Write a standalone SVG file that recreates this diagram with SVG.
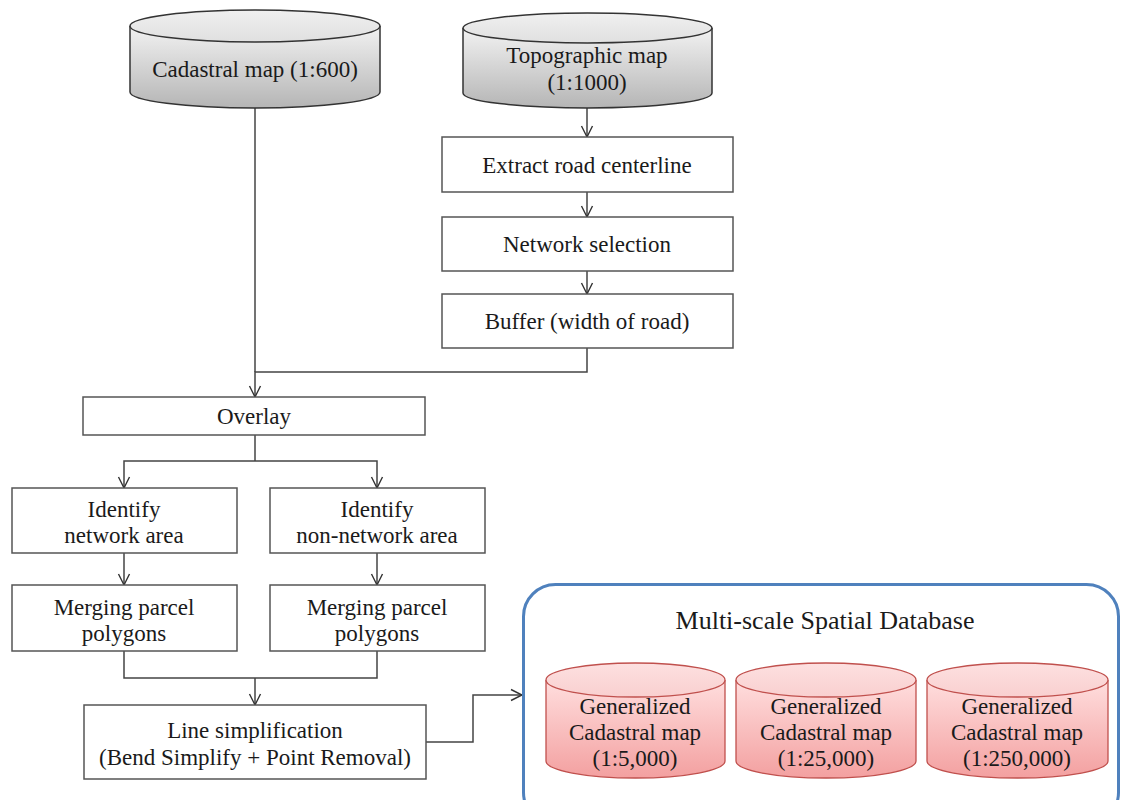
<svg xmlns="http://www.w3.org/2000/svg" width="1122" height="800" viewBox="0 0 1122 800">
<defs>
<linearGradient id="gGray" x1="0" y1="0" x2="0" y2="1">
<stop offset="0" stop-color="#f2f2f2"/>
<stop offset="1" stop-color="#b5b5b5"/>
</linearGradient>
<linearGradient id="gGrayTop" x1="0" y1="0" x2="0" y2="1">
<stop offset="0" stop-color="#f0f0f0"/>
<stop offset="1" stop-color="#e0e0e0"/>
</linearGradient>
<linearGradient id="gRed" x1="0" y1="0" x2="0" y2="1">
<stop offset="0" stop-color="#ffdede"/>
<stop offset="1" stop-color="#f3a0a0"/>
</linearGradient>
<linearGradient id="gRedTop" x1="0" y1="0" x2="0" y2="1">
<stop offset="0" stop-color="#fde0e0"/>
<stop offset="1" stop-color="#f9cfcf"/>
</linearGradient>
<marker id="arr" markerWidth="14" markerHeight="14" refX="12" refY="7" orient="auto" markerUnits="userSpaceOnUse">
<path d="M1,1.5 L12,7 L1,12.5" fill="none" stroke="#333" stroke-width="1.4"/>
</marker>
</defs>
<style>
text{font-size:23px;fill:#1a1a1a;text-anchor:middle;dominant-baseline:central}
.box{fill:#fff;stroke:#555;stroke-width:1.5}
.gcyl{fill:url(#gGray);stroke:#333;stroke-width:1.5}
.gtop{fill:url(#gGrayTop);stroke:#333;stroke-width:1.5}
.rcyl{fill:url(#gRed);stroke:#c0504d;stroke-width:1.3}
.rtop{fill:url(#gRedTop);stroke:#c0504d;stroke-width:1.3}
.con{fill:none;stroke:#444;stroke-width:1.5}
.title{font-size:26px}
</style>
<rect width="1122" height="800" fill="#fff"/>

<g id="connectors">
<path class="con" d="M255,108 V372"/>
<path class="con" d="M587,348 V372 H255 V397" marker-end="url(#arr)"/>
<path class="con" d="M587,108 V137" marker-end="url(#arr)"/>
<path class="con" d="M587,192 V217" marker-end="url(#arr)"/>
<path class="con" d="M587,271 V294" marker-end="url(#arr)"/>
<path class="con" d="M255,435 V461"/>
<path class="con" d="M255,461 H124 V488" marker-end="url(#arr)"/>
<path class="con" d="M255,461 H377 V488" marker-end="url(#arr)"/>
<path class="con" d="M124,553 V585" marker-end="url(#arr)"/>
<path class="con" d="M377,553 V585" marker-end="url(#arr)"/>
<path class="con" d="M124,651 V678 H377 V651"/>
<path class="con" d="M255,678 V705" marker-end="url(#arr)"/>
<path class="con" d="M426,742 H473 V695 H522" marker-end="url(#arr)"/>
</g>

<g font-family="'Liberation Serif', 'Times New Roman', serif">
<g id="cadastral">
<path class="gcyl" d="M130,26 V92 A125,16 0 0 0 380,92 V26"/>
<ellipse class="gtop" cx="255" cy="26" rx="125" ry="16"/>
<text x="255" y="69">Cadastral map (1:600)</text>
</g>

<g id="topographic">
<path class="gcyl" d="M463,28 V93 A124.5,15 0 0 0 712,93 V28"/>
<ellipse class="gtop" cx="587.5" cy="28" rx="124.5" ry="15"/>
<text x="587" y="55">Topographic map</text>
<text x="587" y="82">(1:1000)</text>
</g>

<g id="extract">
<rect class="box" x="442" y="137" width="291" height="55"/>
<text x="587" y="165">Extract road centerline</text>
</g>

<g id="network-selection">
<rect class="box" x="442" y="217" width="291" height="54"/>
<text x="587" y="244">Network selection</text>
</g>

<g id="buffer">
<rect class="box" x="442" y="294" width="291" height="54"/>
<text x="587" y="321">Buffer (width of road)</text>
</g>

<g id="overlay">
<rect class="box" x="83" y="397" width="342" height="38"/>
<text x="254" y="416">Overlay</text>
</g>

<g id="identify-network">
<rect class="box" x="12" y="488" width="225" height="65"/>
<text x="124" y="509">Identify</text>
<text x="124" y="535">network area</text>
</g>

<g id="identify-non-network">
<rect class="box" x="270" y="488" width="215" height="65"/>
<text x="377" y="509">Identify</text>
<text x="377" y="535">non-network area</text>
</g>

<g id="merging-left">
<rect class="box" x="12" y="585" width="225" height="66"/>
<text x="124" y="607">Merging parcel</text>
<text x="124" y="633">polygons</text>
</g>

<g id="merging-right">
<rect class="box" x="270" y="585" width="215" height="66"/>
<text x="377" y="607">Merging parcel</text>
<text x="377" y="633">polygons</text>
</g>

<g id="line-simplification">
<rect class="box" x="84" y="705" width="342" height="74"/>
<text x="255" y="730">Line simplification</text>
<text x="255" y="757">(Bend Simplify + Point Removal)</text>
</g>

<g id="multi-scale-db">
<rect x="523.5" y="584.5" width="595" height="240" rx="32" ry="32" fill="#fff" stroke="#4f81bd" stroke-width="3"/>
<text class="title" x="825" y="620">Multi-scale Spatial Database</text>
</g>

<g id="gen-5000">
<path class="rcyl" d="M546,680 V761 A89.5,17 0 0 0 725,761 V680"/>
<ellipse class="rtop" cx="635.5" cy="680" rx="89.5" ry="17"/>
<text x="635" y="706">Generalized</text>
<text x="635" y="732">Cadastral map</text>
<text x="635" y="758">(1:5,000)</text>
</g>

<g id="gen-25000">
<path class="rcyl" d="M736,680 V761 A90,17 0 0 0 916,761 V680"/>
<ellipse class="rtop" cx="826" cy="680" rx="90" ry="17"/>
<text x="826" y="706">Generalized</text>
<text x="826" y="732">Cadastral map</text>
<text x="826" y="758">(1:25,000)</text>
</g>

<g id="gen-250000">
<path class="rcyl" d="M927,680 V761 A90.5,17 0 0 0 1108,761 V680"/>
<ellipse class="rtop" cx="1017.5" cy="680" rx="90.5" ry="17"/>
<text x="1017" y="706">Generalized</text>
<text x="1017" y="732">Cadastral map</text>
<text x="1017" y="758">(1:250,000)</text>
</g>
</g>
</svg>
